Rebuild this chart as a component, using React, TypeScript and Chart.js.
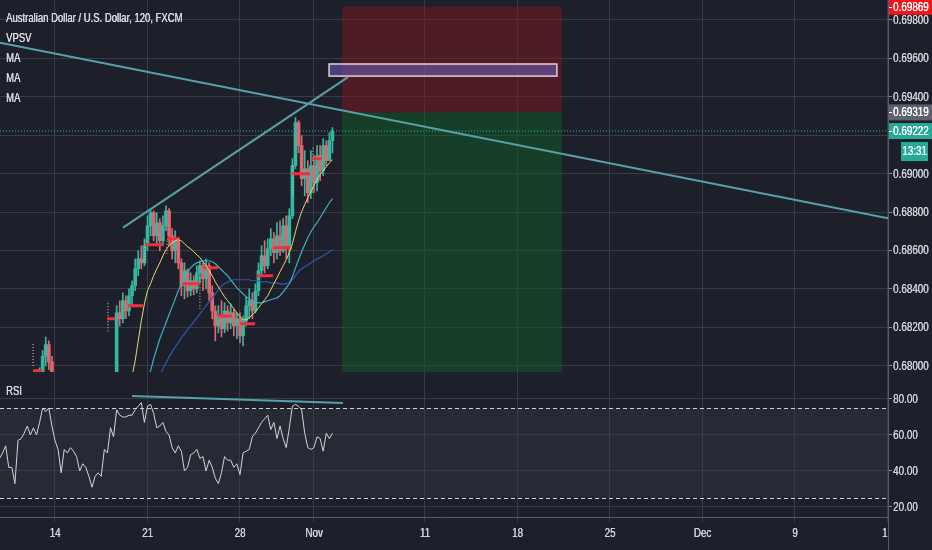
import React, { useEffect, useRef } from "react";
import { Chart, registerables } from "chart.js";

Chart.register(...registerables);

// ---------- time axis: 4-hour bar index (0 = Mon 14 Oct 00:00), 30 bars per trading week
const X_MIN = -17.84;
const X_MAX = 270.2;
const TIME_TICKS = [0, 30, 60, 84, 120, 150, 180, 210, 240, 270];
const TIME_LABELS = ["14", "21", "28", "Nov", "11", "18", "25", "Dec", "9", "16"];

// ---------- price axis
const PRICE_MIN = 0.67968;
const PRICE_MAX = 0.69904;
const PRICE_TICKS = [0.68, 0.682, 0.684, 0.686, 0.688, 0.69, 0.692, 0.694, 0.696, 0.698];

// ---------- candles, segment A (bars -5 .. -1)
const A_START = -5;
const A_OPEN0 = 0.6788;
const A_HIGH = [0.6799, 0.6808, 0.6815, 0.6813, 0.6805];
const A_LOW = [0.6785, 0.6793, 0.68, 0.6798, 0.6789];
const A_CLOSE = [0.6796, 0.6805, 0.6811, 0.6802, 0.6794];

// ---------- candles, segment B (bars 20 .. 90)
const B_START = 20;
const B_OPEN0 = 0.6792;
const B_CLOSE = [
  0.68276, 0.68245, 0.68339, 0.68286, 0.68365, 0.68417, 0.68505, 0.68557, 0.68536, 0.68625,
  0.68729, 0.68797, 0.68677, 0.68745, 0.68651, 0.68729, 0.68807, 0.68677, 0.68599, 0.68651,
  0.68536, 0.68417, 0.68495, 0.68391, 0.68443, 0.68401, 0.68484, 0.68521, 0.68453, 0.68521,
  0.6838, 0.68286, 0.68208, 0.6826, 0.68193, 0.68286, 0.68224, 0.68276, 0.68208, 0.68245,
  0.68156, 0.68234, 0.68313, 0.68339, 0.68286, 0.68391, 0.68495, 0.68573, 0.68521, 0.68609,
  0.68661, 0.68589, 0.68677, 0.68599, 0.68729, 0.68625, 0.68781, 0.69042, 0.69266, 0.69146,
  0.68974, 0.69026, 0.68901, 0.69042, 0.68953, 0.69094, 0.69016, 0.69146, 0.69068, 0.69172,
  0.69222,
];
const B_HIGH = [
  0.68313, 0.68339, 0.6838, 0.68365, 0.68401, 0.68443, 0.68557, 0.68599, 0.68625, 0.68661,
  0.68781, 0.68818, 0.68807, 0.68797, 0.68766, 0.68781, 0.68833, 0.68818, 0.68714, 0.68703,
  0.68661, 0.68557, 0.68536, 0.68505, 0.68484, 0.68469, 0.68521, 0.68547, 0.68536, 0.68557,
  0.68536, 0.68417, 0.68313, 0.68313, 0.68339, 0.68328, 0.68313, 0.68323, 0.68297, 0.68276,
  0.68276, 0.6826, 0.68359, 0.68401, 0.6838, 0.68427, 0.68536, 0.68625, 0.68651, 0.68661,
  0.68714, 0.68693, 0.68745, 0.68755, 0.68766, 0.68781, 0.68818, 0.69078, 0.69292, 0.69276,
  0.69198, 0.6912, 0.69068, 0.6912, 0.69094, 0.69146, 0.69146, 0.69182, 0.69172, 0.69214,
  0.6924,
];
const B_LOW = [
  0.67911, 0.68208, 0.68224, 0.68245, 0.6826, 0.68313, 0.68391, 0.68469, 0.68505, 0.68521,
  0.68599, 0.68677, 0.68651, 0.68625, 0.68599, 0.68625, 0.68703, 0.68625, 0.68557, 0.68536,
  0.68505, 0.68365, 0.68349, 0.68359, 0.68365, 0.6837, 0.6838, 0.68432, 0.68391, 0.68401,
  0.68339, 0.68245, 0.6813, 0.68172, 0.68151, 0.68172, 0.68182, 0.68193, 0.68156, 0.68141,
  0.6812, 0.68104, 0.68208, 0.68245, 0.68245, 0.68276, 0.68365, 0.68469, 0.68484, 0.68505,
  0.68573, 0.68536, 0.68557, 0.68573, 0.68589, 0.68557, 0.68536, 0.68766, 0.69026, 0.69109,
  0.68938, 0.68885, 0.68849, 0.6887, 0.68901, 0.68911, 0.68964, 0.6899, 0.69042, 0.69068,
  0.69109,
];

// ---------- moving averages
const MA_FAST_START = 25;
const MA_FAST = [
  0.67948, 0.68026, 0.6813, 0.68234, 0.68323, 0.68391, 0.68427, 0.68469, 0.68505, 0.68536,
  0.68573, 0.68604, 0.68625, 0.68641, 0.68651, 0.68656, 0.68651, 0.68635, 0.6862, 0.68609,
  0.68594, 0.68578, 0.68563, 0.68542, 0.68521, 0.68495, 0.68469, 0.68437, 0.68411, 0.68385,
  0.68359, 0.68339, 0.68318, 0.68297, 0.68276, 0.68255, 0.6824, 0.6824, 0.6825, 0.68266,
  0.68281, 0.68302, 0.68323, 0.68344, 0.68365, 0.68396, 0.68427, 0.68458, 0.6849, 0.68521,
  0.68552, 0.68589, 0.68635, 0.68698, 0.68755, 0.68802, 0.68839, 0.68875, 0.68906, 0.68938,
  0.68969, 0.68995, 0.69016, 0.69036, 0.69057, 0.69073,
];
const MA_MID_START = 30;
const MA_MID = [
  0.67922, 0.67974, 0.68036, 0.68089, 0.68141, 0.68182, 0.68224, 0.68266, 0.68307, 0.68349,
  0.68391, 0.68427, 0.68458, 0.6849, 0.6851, 0.68526, 0.68536, 0.68542, 0.68547, 0.68547,
  0.68547, 0.68542, 0.68531, 0.68516, 0.685, 0.68484, 0.68469, 0.68448, 0.68427, 0.68406,
  0.68391, 0.68375, 0.68359, 0.68349, 0.68339, 0.68333, 0.68328, 0.68328, 0.68333, 0.68339,
  0.68344, 0.68349, 0.68354, 0.68365, 0.68385, 0.68406, 0.68427, 0.68464, 0.6851, 0.68552,
  0.68594, 0.6863, 0.68667, 0.68698, 0.68724, 0.68745, 0.68771, 0.68797, 0.68823, 0.68849,
  0.6887,
];
const MA_SLOW_START = 34;
const MA_SLOW = [
  0.67948, 0.67984, 0.68016, 0.68047, 0.68073, 0.68099, 0.6812, 0.68146, 0.68167, 0.68188,
  0.68208, 0.68229, 0.6825, 0.68271, 0.68292, 0.68313, 0.68333, 0.68354, 0.68375, 0.68396,
  0.68417, 0.68427, 0.68437, 0.68443, 0.68448, 0.68448, 0.68448, 0.68448, 0.68448, 0.68448,
  0.68443, 0.68443, 0.68443, 0.68437, 0.68437, 0.68437, 0.68432, 0.68432, 0.68432, 0.68427,
  0.68427, 0.68427, 0.68432, 0.68448, 0.68469, 0.6849, 0.68505, 0.68516, 0.68526, 0.68536,
  0.68547, 0.68557, 0.68563, 0.68573, 0.68583, 0.68594, 0.68604,
];

// ---------- VPSV: points of control per session
const POC_START = [-7.1, 17, 23.7, 29.2, 36.3, 41.2, 48, 52.9, 60, 65.5, 70.7, 76.9, 83.4];
const POC_END = [-4.2, 19.5, 28.5, 35, 40.5, 47, 52.9, 57.4, 64.9, 70.7, 76.9, 82.7, 86.6];
const POC_PRICE = [
  0.67974, 0.68245, 0.68313, 0.6863, 0.68661, 0.68427, 0.6851, 0.6826, 0.68219, 0.68469,
  0.68615, 0.69, 0.69078,
];
// ---------- VPSV: value-area columns at session starts
const VA_X = [-7.1, 17.2, 29.2, 36.3, 47, 77.2, 83.6];
const VA_LOW = [0.67999, 0.6818, 0.68536, 0.68583, 0.68297, 0.68896, 0.69068];
const VA_HIGH = [0.68114, 0.68338, 0.68651, 0.68661, 0.68469, 0.69052, 0.69135];

// ---------- drawings
const DOWN_LINE_X = [X_MIN, X_MAX];
const DOWN_LINE_Y = [0.69682, 0.68768];
const UP_LINE_X = [22.06, 95.04];
const UP_LINE_Y = [0.68719, 0.69503];
const POS_START = 93.1;
const POS_END = 164.4;
const STOP_PRICE = 0.69869;
const ENTRY_PRICE = 0.69319;
const TARGET_PRICE = 0.6785;
const LAST_PRICE = 0.69222;
const COUNTDOWN = "13:31";
const BOX_START = 88.9;
const BOX_END = 162.8;
const BOX_TOP = 0.69571;
const BOX_BOTTOM = 0.69508;

// ---------- RSI
const RSI_START = -18;
const RSI = [
  47, 50, 54, 42, 42, 33, 57, 58, 61, 65,
  60, 64, 60, 67, 75, 73, 75, 65, 57, 52,
  39, 52, 50, 53, 51, 48, 40, 44, 42, 37,
  31, 37, 39, 37, 52, 50, 64, 59, 74, 71,
  70, 70, 71, 71, 74, 76, 78, 67, 76, 77,
  72, 64, 65, 67, 62, 60, 53, 50, 54, 51,
  40, 42, 49, 50, 52, 47, 48, 40, 46, 42,
  36, 33, 39, 48, 46, 46, 42, 44, 38, 50,
  51, 52, 59, 61, 64, 67, 69, 71, 63, 67,
  58, 65, 58, 53, 64, 76, 77, 76, 74, 61,
  53, 52, 53, 59, 58, 51, 61, 58, 61,
];
const RSI_MIN = 14.44;
const RSI_MAX = 95;
const RSI_TICKS = [20, 40, 60, 80];
const RSI_UPPER = 75;
const RSI_LOWER = 25;
const RSI_TREND_X = [24.97, 93.4];
const RSI_TREND_Y = [81.7, 77.8];

const HEADER = ["Australian Dollar / U.S. Dollar, 120, FXCM", "VPSV", "MA", "MA", "MA"];

// ---------- styles
const BG = "#1d202b";
const BAND = "#262a35";
const GRID = "#383c48";
const SEP = "#585c68";
const TEXT = "#d0d3da";
const UP = "#35b8a1";
const DOWN = "#e0676f";
const TREND = "#55a2aa";
const FONT = "'Liberation Sans', Arial, sans-serif";
const AXIS_W = 44;

function narrowText(
  ctx: CanvasRenderingContext2D,
  text: string,
  x: number,
  y: number,
  size: number,
  color: string,
  align: CanvasTextAlign = "left",
  squeeze = 0.82
) {
  ctx.save();
  ctx.font = `${size}px ${FONT}`;
  ctx.fillStyle = color;
  ctx.textBaseline = "middle";
  ctx.textAlign = align;
  ctx.translate(x, y);
  ctx.scale(squeeze, 1);
  ctx.fillText(text, 0, 0);
  ctx.fillText(text, 0.45, 0);
  ctx.restore();
}

function buildCandles() {
  const bodies: any[] = [];
  const wicks: any[] = [];
  const colors: string[] = [];
  const seg = (start: number, open0: number, hi: number[], lo: number[], cl: number[]) => {
    let prev = open0;
    cl.forEach((c, k) => {
      const o = prev;
      bodies.push({ x: start + k, y: [o, c] });
      wicks.push({ x: start + k, y: [lo[k], hi[k]] });
      colors.push(c >= o ? UP : DOWN);
      prev = c;
    });
  };
  seg(A_START, A_OPEN0, A_HIGH, A_LOW, A_CLOSE);
  seg(B_START, B_OPEN0, B_HIGH, B_LOW, B_CLOSE);
  return { bodies, wicks, colors };
}

const series = (start: number, vals: number[]) => vals.map((v, k) => ({ x: start + k, y: v }));

function pocData() {
  const out: any[] = [];
  POC_PRICE.forEach((p, k) => {
    out.push({ x: POC_START[k], y: p });
    out.push({ x: POC_END[k], y: p });
    out.push({ x: POC_END[k] + 0.01, y: null });
  });
  return out;
}

function vaData() {
  const out: any[] = [];
  VA_X.forEach((x, k) => {
    out.push({ x, y: VA_LOW[k] });
    out.push({ x, y: VA_HIGH[k] });
    out.push({ x: x + 0.01, y: null });
  });
  return out;
}

const lineDs = (data: any[], color: string, width: number, order: number, extra: any = {}) => ({
  type: "line",
  data,
  borderColor: color,
  borderWidth: width,
  pointRadius: 0,
  tension: 0,
  fill: false,
  order,
  ...extra,
});

const xScale = (withAxis: boolean) => ({
  type: "linear",
  min: X_MIN,
  max: X_MAX,
  offset: false,
  afterBuildTicks: (s: any) => {
    s.ticks = TIME_TICKS.map((v) => ({ value: v }));
  },
  afterFit: (s: any) => {
    s.height = withAxis ? 33 : 0;
    s.paddingLeft = 0;
    s.paddingRight = 0;
  },
  grid: {
    color: GRID,
    offset: false,
    drawTicks: withAxis,
    tickLength: 5,
    tickColor: GRID,
  },
  border: { display: true, color: SEP },
  ticks: { display: false, autoSkip: false, maxRotation: 0 },
});

const yScale = (min: number, max: number, ticks: number[]) => ({
  type: "linear",
  position: "right",
  min,
  max,
  afterBuildTicks: (s: any) => {
    s.ticks = ticks.map((v) => ({ value: v }));
  },
  afterFit: (s: any) => {
    s.width = AXIS_W;
    s.paddingTop = 0;
    s.paddingBottom = 0;
  },
  grid: { color: GRID, tickLength: 4, tickColor: "#8a8d96" },
  border: { display: true, color: SEP },
  ticks: { display: false },
});

function drawYLabels(chart: any, ticks: number[], digits: number) {
  const { ctx, chartArea: a, scales } = chart;
  ticks.forEach((v) => {
    const py = scales.y.getPixelForValue(v);
    narrowText(ctx, v.toFixed(digits), a.right + 5, py + 0.5, 12, TEXT);
  });
}

const mainDeco = {
  id: "mainDeco",
  beforeDraw(chart: any) {
    const { ctx, width, height } = chart;
    ctx.save();
    ctx.fillStyle = BG;
    ctx.fillRect(0, 0, width, height);
    ctx.restore();
  },
  beforeDatasetsDraw(chart: any) {
    const { ctx, chartArea: a, scales } = chart;
    const xs = scales.x;
    const ys = scales.y;
    ctx.save();
    ctx.beginPath();
    ctx.rect(a.left, a.top, a.right - a.left, a.bottom - a.top);
    ctx.clip();
    const x0 = xs.getPixelForValue(POS_START);
    const x1 = xs.getPixelForValue(POS_END);
    const yS = ys.getPixelForValue(STOP_PRICE);
    const yE = ys.getPixelForValue(ENTRY_PRICE);
    const yT = ys.getPixelForValue(TARGET_PRICE);
    ctx.fillStyle = "rgba(125,24,32,0.52)";
    ctx.fillRect(x0, yS, x1 - x0, yE - yS);
    ctx.fillStyle = "rgba(16,92,38,0.5)";
    ctx.fillRect(x0, yE, x1 - x0, yT - yE);
    const bx0 = xs.getPixelForValue(BOX_START);
    const bx1 = xs.getPixelForValue(BOX_END);
    const by0 = ys.getPixelForValue(BOX_TOP);
    const by1 = ys.getPixelForValue(BOX_BOTTOM);
    ctx.fillStyle = "rgba(112,100,205,0.5)";
    ctx.fillRect(bx0, by0, bx1 - bx0, by1 - by0);
    ctx.strokeStyle = "#e8cdd6";
    ctx.lineWidth = 1.5;
    ctx.strokeRect(bx0, by0, bx1 - bx0, by1 - by0);
    ctx.restore();
  },
  afterDraw(chart: any) {
    const { ctx, chartArea: a, scales, width } = chart;
    const ys = scales.y;
    HEADER.forEach((t, k) => narrowText(ctx, t, 6, 19 + k * 19.8, 12.5, "#dadde4", "left", 0.76));
    drawYLabels(chart, PRICE_TICKS, 5);
    const boxes: [number, string][] = [
      [STOP_PRICE, "#f4141c"],
      [ENTRY_PRICE, "#5f626c"],
      [LAST_PRICE, "#26a997"],
    ];
    ctx.save();
    boxes.forEach(([p, c]) => {
      const py = ys.getPixelForValue(p);
      ctx.fillStyle = c;
      ctx.fillRect(a.right, py - 8, width - a.right, 16);
      ctx.strokeStyle = "#ffffff";
      ctx.lineWidth = 1;
      ctx.beginPath();
      ctx.moveTo(a.right, Math.round(py) + 0.5);
      ctx.lineTo(a.right + 4, Math.round(py) + 0.5);
      ctx.stroke();
      narrowText(ctx, p.toFixed(5), a.right + 5, py + 0.5, 12, "#ffffff");
    });
    const pyLast = ys.getPixelForValue(LAST_PRICE);
    ctx.fillStyle = "#26a997";
    ctx.fillRect(901, pyLast + 11, 27, 19);
    ctx.restore();
    narrowText(ctx, COUNTDOWN, 914.5, pyLast + 21, 12, "#ffffff", "center");
    ctx.save();
    ctx.strokeStyle = SEP;
    ctx.lineWidth = 1;
    ctx.beginPath();
    ctx.moveTo(a.right + 0.5, 0);
    ctx.lineTo(a.right + 0.5, chart.height);
    ctx.stroke();
    ctx.restore();
  },
};

const rsiDeco = {
  id: "rsiDeco",
  beforeDraw(chart: any) {
    const { ctx, width, height, chartArea: a, scales } = chart;
    const ys = scales.y;
    ctx.save();
    ctx.fillStyle = BG;
    ctx.fillRect(0, 0, width, height);
    const yU = ys.getPixelForValue(RSI_UPPER);
    const yL = ys.getPixelForValue(RSI_LOWER);
    ctx.fillStyle = BAND;
    ctx.fillRect(a.left, yU, a.right - a.left, yL - yU);
    ctx.restore();
  },
  beforeDatasetsDraw(chart: any) {
    const { ctx, chartArea: a, scales } = chart;
    const ys = scales.y;
    ctx.save();
    ctx.strokeStyle = "#cfd1d6";
    ctx.lineWidth = 1;
    ctx.setLineDash([4, 3]);
    [RSI_UPPER, RSI_LOWER].forEach((v) => {
      const py = Math.round(ys.getPixelForValue(v)) + 0.5;
      ctx.beginPath();
      ctx.moveTo(a.left, py);
      ctx.lineTo(a.right, py);
      ctx.stroke();
    });
    ctx.restore();
  },
  afterDraw(chart: any) {
    const { ctx, chartArea: a, width, height, scales } = chart;
    drawYLabels(chart, RSI_TICKS, 2);
    TIME_TICKS.forEach((v, k) => {
      const px = scales.x.getPixelForValue(v);
      narrowText(ctx, TIME_LABELS[k], px, a.bottom + 16.5, 12, TEXT, "center");
    });
    ctx.save();
    ctx.fillStyle = BG;
    ctx.fillRect(a.right + 1, a.bottom + 1, width - a.right, height - a.bottom);
    ctx.strokeStyle = SEP;
    ctx.lineWidth = 1;
    ctx.beginPath();
    ctx.moveTo(a.right + 0.5, 0);
    ctx.lineTo(a.right + 0.5, height);
    ctx.stroke();
    ctx.restore();
    narrowText(ctx, "RSI", 6, 20, 12.5, "#dadde4", "left", 0.76);
  },
};

export default function App() {
  const mainRef = useRef<HTMLCanvasElement>(null);
  const rsiRef = useRef<HTMLCanvasElement>(null);

  useEffect(() => {
    document.body.style.margin = "0";
    document.body.style.background = BG;
    const { bodies, wicks, colors } = buildCandles();

    const main = new Chart(mainRef.current as HTMLCanvasElement, {
      type: "line",
      data: {
        datasets: [
          lineDs(DOWN_LINE_X.map((x, k) => ({ x, y: DOWN_LINE_Y[k] })), TREND, 2, 0),
          lineDs(UP_LINE_X.map((x, k) => ({ x, y: UP_LINE_Y[k] })), TREND, 2, 0),
          lineDs(
            [
              { x: X_MIN, y: LAST_PRICE },
              { x: X_MAX, y: LAST_PRICE },
            ],
            "#2bb3a2",
            1,
            0,
            { borderDash: [1, 2] }
          ),
          lineDs(series(MA_FAST_START, MA_FAST), "#e4da72", 1, 1),
          lineDs(series(MA_MID_START, MA_MID), "#3cb0c4", 1.2, 1),
          lineDs(series(MA_SLOW_START, MA_SLOW), "#2e58ab", 1.2, 1),
          lineDs(pocData(), "#f2303c", 3, 1.5, { spanGaps: false }),
          lineDs(vaData(), "rgba(225,215,160,0.7)", 1.5, 1.6, { spanGaps: false, borderDash: [1, 2] }),
          {
            type: "bar",
            data: bodies,
            backgroundColor: colors,
            barThickness: 3,
            minBarLength: 1,
            grouped: false,
            order: 2,
          },
          {
            type: "bar",
            data: wicks,
            backgroundColor: colors,
            barThickness: 1,
            grouped: false,
            order: 3,
          },
        ] as any,
      },
      options: {
        responsive: false,
        animation: false,
        events: [],
        layout: { padding: 0 },
        plugins: { legend: { display: false }, tooltip: { enabled: false } },
        scales: {
          x: xScale(false) as any,
          y: yScale(PRICE_MIN, PRICE_MAX, PRICE_TICKS) as any,
        },
      },
      plugins: [mainDeco],
    });

    const rsi = new Chart(rsiRef.current as HTMLCanvasElement, {
      type: "line",
      data: {
        datasets: [
          lineDs(RSI_TREND_X.map((x, k) => ({ x, y: RSI_TREND_Y[k] })), TREND, 2, 0),
          lineDs(series(RSI_START, RSI), "#d4d4d6", 1, 1),
        ] as any,
      },
      options: {
        responsive: false,
        animation: false,
        events: [],
        layout: { padding: 0 },
        plugins: { legend: { display: false }, tooltip: { enabled: false } },
        scales: {
          x: xScale(true) as any,
          y: yScale(RSI_MIN, RSI_MAX, RSI_TICKS) as any,
        },
      },
      plugins: [rsiDeco],
    });

    return () => {
      main.destroy();
      rsi.destroy();
    };
  }, []);

  return (
    <div style={{ position: "fixed", left: 0, top: 0, width: 932, height: 550, background: BG, overflow: "hidden" }}>
      <canvas ref={mainRef} width={932} height={372} style={{ position: "absolute", left: 0, top: 0 }} />
      <canvas ref={rsiRef} width={932} height={178} style={{ position: "absolute", left: 0, top: 372 }} />
    </div>
  );
}
